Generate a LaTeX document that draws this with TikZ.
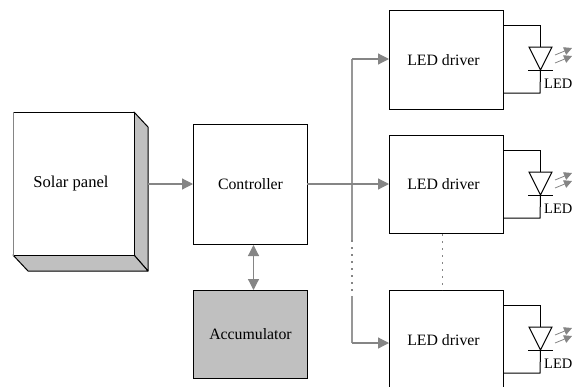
\documentclass[tikz,border=0pt]{standalone}
\usepackage{fontspec}
\setmainfont{Liberation Serif}
\usetikzlibrary{arrows.meta}
\definecolor{wirearrow}{HTML}{858585}
\definecolor{bodygrey}{HTML}{C0C0C0}
\tikzset{
  x=1pt,y=-1pt,
  blockbox/.style={draw=black,line width=1pt,fill=white,minimum width=114pt,inner sep=0pt,font=\fontsize{15.8}{16}\selectfont,anchor=north west},
  flow/.style={draw=wirearrow,line width=1.2pt,-{Triangle[length=11pt,width=11pt]}},
  bothflow/.style={draw=wirearrow,line width=1.2pt,{Triangle[length=11pt,width=11pt]}-{Triangle[length=11pt,width=11pt]}},
  bus/.style={draw=wirearrow!85,line width=1.4pt},
  dotbus/.style={draw=wirearrow,line width=1.4pt,dash pattern=on 2pt off 5pt},
  wire/.style={draw=black,line width=1pt},
  panelface/.style={draw=black,line width=1pt,fill=bodygrey,line join=round},
  ray/.style={draw=wirearrow,line width=0.8pt,-{Triangle[length=8pt,width=8pt]}},
  ledlabel/.style={font=\fontsize{14.5}{14.5}\selectfont,inner sep=0pt,anchor=west}
}
\newcommand{\leddiode}[2]{% name, y of driver top wire
  \coordinate (#1top) at (540,#2);
  \coordinate (#1tl) at (529,#2+22);
  \coordinate (#1tr) at (552,#2+22);
  \coordinate (#1apex) at (540.5,#2+45);
  \coordinate (#1bot) at (540,#2+68);
  \draw[wire] (#1top -| #1.east) -- (#1top) -- (#1top |- #1tl);
  \draw[wire] (#1tl) -- (#1tr) -- (#1apex) -- cycle;
  \draw[wire] (528,#2+45) -- (552.5,#2+45);
  \draw[wire] (#1apex) -- (#1bot) -- (#1bot -| #1.east);
  \node[ledlabel] (#1label) at (544,#2+59) {LED};
  \coordinate (#1ra) at (555,#2+30);
  \coordinate (#1rb) at (572,#2+23);
  \coordinate (#1rc) at (555,#2+38);
  \coordinate (#1rd) at (572,#2+31);
  \draw[ray] (#1ra) -- (#1rb);
  \draw[ray] (#1rc) -- (#1rd);
}
\begin{document}
\begin{tikzpicture}
\path[use as bounding box,clip] (0,0) rectangle (572,386);
\fill[white] (0,0) rectangle (572,386);
% solar panel
\draw[panelface] (134,112) -- (148,127) -- (148,271) -- (134,255) -- cycle;
\draw[panelface] (13,255) -- (134,255) -- (148,271) -- (28,271) -- cycle;
\node[blockbox,minimum width=121pt,minimum height=143pt,font=\fontsize{16.6}{17}\selectfont] (panel) at (13,112) {\hspace*{-6pt}Solar panel};
\draw[wirearrow,line width=1pt] (panel.north west) -- (panel.south west);
\coordinate (panelside) at (148,184);
% controller and accumulator
\node[blockbox,minimum height=120pt] (ctrl) at (193,124) {Controller};
\node[blockbox,minimum height=88pt,fill=bodygrey] (accu) at (193,290) {Accumulator};
% drivers
\node[blockbox,minimum height=99pt] (d1) at (389,10) {\hspace*{-6pt}LED driver};
\node[blockbox,minimum height=98pt] (d2) at (389,135) {\hspace*{-6pt}LED driver};
\node[blockbox,minimum height=100pt] (d3) at (389,290) {\hspace*{-6pt}LED driver};
\leddiode{d1}{25}
\leddiode{d2}{150}
\leddiode{d3}{305}
% connectors
\draw[flow] (panelside) -- (ctrl.west |- panelside);
\draw[bothflow] (ctrl.south -| 253.5,0) -- (accu.north -| 253.5,0);
\coordinate (busA) at (352,59);
\coordinate (busB) at (352,240);
\coordinate (busC) at (352,296);
\coordinate (busD) at (352,343);
\coordinate (tapA) at (389,59);
\coordinate (tapB) at (389,184);
\coordinate (tapC) at (389,343);
\coordinate (ctrlout) at (307,184);
\coordinate (dotx) at (442.5,0);
\draw[bus] (busB) -- (busA);
\draw[flow] (busA) -- (tapA);
\draw[flow] (ctrlout) -- (tapB);
\draw[dotbus] (busB) -- (busC);
\draw[bus] (busC) -- (busD);
\draw[flow] (busD) -- (tapC);
\draw[dotbus] (d2.south -| dotx) -- (d3.north -| dotx);
\end{tikzpicture}
\end{document}
